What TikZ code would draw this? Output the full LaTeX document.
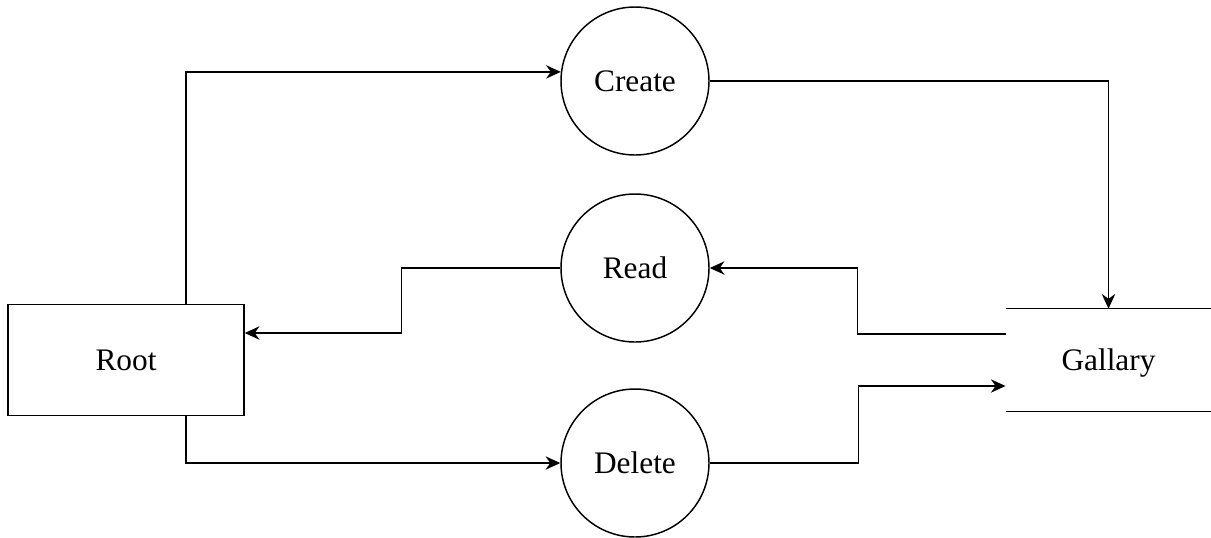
\documentclass[tikz,border=0pt]{standalone}
\usepackage{fontspec}
\setmainfont{Liberation Serif}
\usepackage{tikz}
\usetikzlibrary{shapes.geometric, arrows.meta}
\tikzstyle{entity} = [rectangle, minimum width=177pt, minimum height=83pt, text centered, draw=black, line width=1.1pt]
\tikzstyle{process} = [circle, minimum size=111pt, inner sep=0pt, text centered, draw=black, line width=1.1pt]
\tikzstyle{store} = [rectangle, minimum width=154pt, minimum height=76.5pt, text depth=0pt, text centered]
\tikzstyle{arrow} = [line width=1.1pt,-{Stealth[length=11pt, width=10pt, inset=3.5pt]}]

\begin{document}
\begin{tikzpicture}[x=0.75pt, y=-0.75pt, font=\fontsize{23.5}{28}\selectfont]

	\useasboundingbox (0,0) rectangle (1211,537);

	\node (root) [entity] at (126,360) {Root};
	\node (create) [process] at (635,81) {Create};
	\node (read) [process] at (635,268) {Read};
	\node (delete) [process] at (635,463) {Delete};
	\node (gal) [store] at (1108.5,360) {Gallary};
	\draw [line width=1.1pt] (gal.north west) -- (gal.north east);
	\draw [line width=1.1pt] (gal.south west) -- (gal.south east);

	\draw [arrow] ([xshift=45pt]root.north) |- (create.173);
	\draw [arrow] (create.east) -| (gal.north);
	\draw [arrow] ([yshift=19.5pt]gal.west) -- ++(-148,0) |- (read.east);
	\draw [arrow] (read.west) -- ++(-159,0) |- ([yshift=20.25pt]root.east);
	\draw [arrow] ([xshift=45pt]root.south) |- (delete.west);
	\draw [arrow] (delete.east) -- ++(149,0) |- ([yshift=-19.5pt]gal.west);

\end{tikzpicture}
\end{document}
